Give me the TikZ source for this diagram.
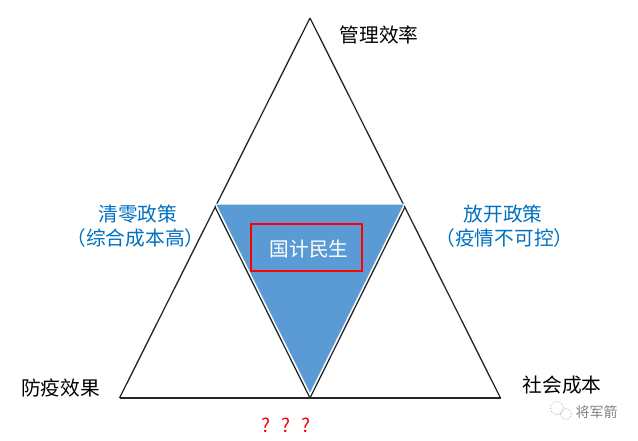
\documentclass[tikz,border=0pt]{standalone}
\usepackage{fontspec}
\setmainfont{Noto Sans CJK SC}
\usepackage{xcolor}
\definecolor{fillblue}{HTML}{5B9BD5}
\definecolor{textblue}{HTML}{0070C0}
\tikzset{
lbl/.style={font=\fontsize{19.7pt}{24pt}\selectfont, inner sep=0pt, align=center},
policy/.style={lbl, text=textblue},
edge/.style={draw=black!85, line width=1.3pt, line join=miter}
}
\begin{document}
\begin{tikzpicture}[x=1pt, y=-1pt]
\useasboundingbox (0,0) rectangle (638,440);
\coordinate (top) at (310,18);
\coordinate (left) at (119.5,398);
\coordinate (right) at (500.5,398);
\coordinate (midl) at (215,207);
\coordinate (midr) at (405,207);
\coordinate (midb) at (310,398);
\foreach \a/\b in {top/left, top/right, left/right, midl/midb, midr/midb}
\draw[edge] (\a) -- (\b);
\fill[fillblue, draw=white, line width=1pt] (215.5,204) -- (404.5,204) -- (310,394) -- cycle;
\node[draw=red, line width=2.4pt, minimum width=111pt, minimum height=47pt, inner sep=0pt] (core) at (306.5,247.5) {};
\node[lbl, text=white] (corelabel) at (309,249) {国计民生};
\node[lbl] (manage) at (379,35) {管理效率};
\node[lbl] (effect) at (60.5,388) {防疫效果};
\node[lbl] (cost) at (562,385) {社会成本};
\node[policy] (zero) at (135.5,226) {\hspace*{5pt}清零政策\\（综合成本高）};
\node[policy] (open) at (504.5,226) {放开政策\hspace*{3pt}\\（疫情不可控）};
\node[lbl, text=red, font=\fontsize{19pt}{23pt}\selectfont] (unknown) at (286,425) {?\hspace{11pt}?\hspace{11pt}?};
\draw[black!30, line width=0.7pt, densely dotted] (557,408) circle (6.5pt);
\draw[black!30, line width=0.7pt, densely dotted] (566,414) circle (5.5pt);
\node[font=\fontsize{14pt}{16pt}\selectfont, text=black!50, inner sep=0pt] (account) at (596.5,412) {将军箭};
\end{tikzpicture}
\end{document}
